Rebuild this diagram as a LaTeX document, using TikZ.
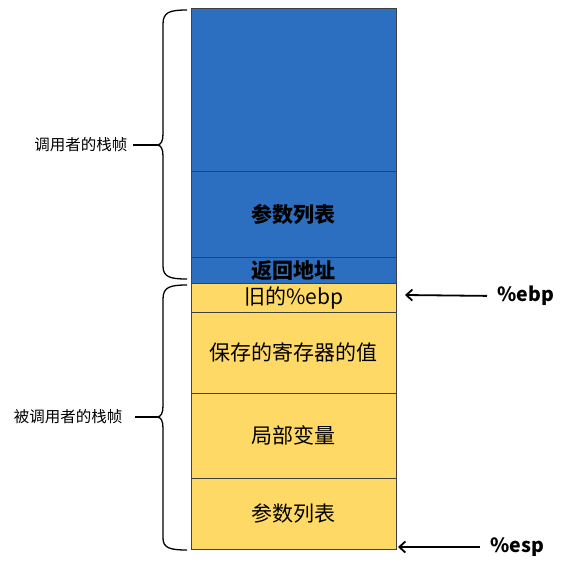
\documentclass[tikz,border=0pt]{standalone}
\usepackage{fontspec}
\setmainfont{Noto Sans CJK SC}
\usetikzlibrary{arrows.meta}
\definecolor{callerblue}{HTML}{2C6FC0}
\definecolor{calleeyellow}{HTML}{FFD966}
\tikzstyle{every node}=[inner sep=0pt]
\tikzstyle{slot}=[draw=black!75, line width=0.8pt, minimum width=205pt, anchor=north west,
	font=\fontsize{21}{24}\selectfont]
\tikzstyle{caller}=[slot, fill=callerblue, font=\fontsize{21}{24}\selectfont\bfseries]
\tikzstyle{callee}=[slot, fill=calleeyellow]
\tikzstyle{framelabel}=[anchor=east, font=\fontsize{15.5}{18}\selectfont]
\tikzstyle{reglabel}=[anchor=west, font=\fontsize{19.5}{22}\selectfont\bfseries]
\tikzstyle{ptr}=[line width=1.8pt, -{Straight Barb[length=6pt,width=11pt]}]

\begin{document}
\begin{tikzpicture}[x=1pt, y=-1pt, line width=1.3pt]
	\useasboundingbox (0,0) rectangle (566,563);
	% caller frame
	\node[caller, minimum height=163pt] (top) at (191,8) {};
	\node[caller, minimum height=86pt] (args) at (191,171) {参数列表};
	\node[caller, minimum height=26pt] (ret) at (191,257) {返回地址};
	% callee frame
	\node[callee, minimum height=29pt] (oldebp) at (191,283) {旧的\%ebp};
	\node[callee, minimum height=81pt] (saved) at (191,312) {保存的寄存器的值};
	\node[callee, minimum height=85pt] (locals) at (191,393) {局部变量};
	\node[callee, minimum height=71pt] (params) at (191,478) {参数列表};
	% braces
	\draw (187,10) .. controls (170,10) and (163,12) .. (163,24) -- (163,134)
		.. controls (163,141) and (161,145) .. (157,145) coordinate (callertip)
		.. controls (161,145) and (163,149) .. (163,156) -- (163,266)
		.. controls (163,277) and (170,279) .. (187,279);
	\draw (187,285) .. controls (170,285) and (163,287) .. (163,299) -- (163,406)
		.. controls (163,413) and (161,417) .. (157,417) coordinate (calleetip)
		.. controls (161,417) and (163,421) .. (163,428) -- (163,538)
		.. controls (163,548) and (170,550) .. (187,550);
	\node[framelabel] (callerlab) at (128,145) {调用者的栈帧};
	\node[framelabel] (calleelab) at (123,417) {被调用者的栈帧};
	\draw[shorten <=5pt] (callerlab.east) -- (callertip);
	\draw[shorten <=12pt] (calleelab.east) -- (calleetip);
	% registers
	\node[reglabel] (ebp) at (497,296) {\%ebp};
	\node[reglabel] (esp) at (490,547) {\%esp};
	\coordinate (ebptip) at (405,295);
	\coordinate (esptip) at (398,547);
	\draw[ptr, shorten <=10pt] (ebp.west) -- (ebptip);
	\draw[ptr, shorten <=10pt] (esp.west) -- (esptip);
\end{tikzpicture}
\end{document}
